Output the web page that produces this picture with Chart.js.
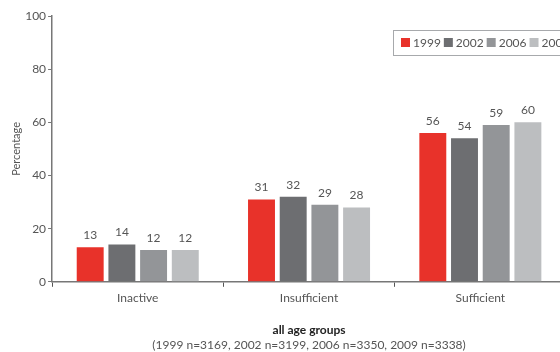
<!DOCTYPE html>
<html>
<head>
<meta charset="utf-8">
<script src="https://cdn.jsdelivr.net/npm/chart.js@4/dist/chart.umd.min.js"></script>
<style>
  html, body { margin: 0; padding: 0; background: #fff; overflow: hidden; }
  #wrap { position: relative; width: 580px; height: 352px; }
</style>
</head>
<body>
<div id="wrap"><canvas id="barChart" width="580" height="352"></canvas></div>
<script>
var categories = ['Inactive', 'Insufficient', 'Sufficient']
var years = ['1999', '2002', '2006', '2009']
var values1999 = [13, 31, 56]
var values2002 = [14, 32, 54]
var values2006 = [12, 29, 59]
var values2009 = [12, 28, 60]
var yTicks = [0, 20, 40, 60, 80, 100]
var colours = ['#e8322a', '#6d6e71', '#939598', '#bcbec0']

var fontFamily = 'Lato, "Open Sans", sans-serif'
var textColour = '#555'

// numbers printed above each bar
var valueLabels = {
  id: 'valueLabels',
  afterDatasetsDraw: function (chart) {
    var ctx = chart.ctx
    ctx.save()
    ctx.font = '12px ' + fontFamily
    ctx.fillStyle = textColour
    ctx.textAlign = 'center'
    ctx.textBaseline = 'bottom'
    chart.data.datasets.forEach(function (ds, i) {
      chart.getDatasetMeta(i).data.forEach(function (bar, j) {
        ctx.fillText(ds.data[j], bar.x, bar.y - 6)
      })
    })
    ctx.restore()
  }
}

// boxed legend in the top right corner
var boxLegend = {
  id: 'boxLegend',
  afterDraw: function (chart) {
    var ctx = chart.ctx
    var left = 393, top = 30, h = 25
    ctx.save()
    ctx.fillStyle = '#fff'
    ctx.fillRect(left, top, 300, h)
    ctx.strokeStyle = '#a7a9ac'
    ctx.lineWidth = 1
    ctx.strokeRect(left + 0.5, top + 0.5, 300, h)
    ctx.font = '12px ' + fontFamily
    ctx.textBaseline = 'middle'
    var x = left + 8
    chart.data.datasets.forEach(function (ds) {
      ctx.fillStyle = ds.backgroundColor
      ctx.fillRect(x, top + 8, 9, 9)
      ctx.fillStyle = textColour
      ctx.fillText(ds.label, x + 12, top + h / 2 + 1)
      x += 12 + ctx.measureText(ds.label).width + 3
    })
    ctx.restore()
  }
}

var seriesValues = [values1999, values2002, values2006, values2009]
var datasets = years.map(function (y, i) {
  return {
    label: y,
    data: seriesValues[i],
    backgroundColor: colours[i],
    barPercentage: 0.85,
    categoryPercentage: 0.74
  }
})

new Chart(document.getElementById('barChart').getContext('2d'), {
  type: 'bar',
  data: { labels: categories, datasets: datasets },
  options: {
    responsive: false,
    animation: false,
    layout: { padding: { top: 16, right: 14, left: 8, bottom: 0 } },
    plugins: {
      legend: { display: false },
      tooltip: { enabled: false },
      title: {
        display: true,
        position: 'bottom',
        fullSize: false,
        weight: 1000,
        text: 'all age groups',
        color: '#222',
        font: { family: fontFamily, size: 12, weight: 'bold' },
        padding: { top: 14, bottom: 0 }
      },
      subtitle: {
        display: true,
        position: 'bottom',
        fullSize: false,
        weight: 1500,
        text: '(1999 n=3169, 2002 n=3199, 2006 n=3350, 2009 n=3338)',
        color: textColour,
        font: { family: fontFamily, size: 12 },
        padding: { top: 0, bottom: 0 }
      }
    },
    scales: {
      x: {
        grid: { drawOnChartArea: false, drawTicks: true, tickLength: 5, color: '#555', lineWidth: 1 },
        border: { display: true, color: '#777', width: 1.5 },
        ticks: { color: textColour, font: { family: fontFamily, size: 12 }, padding: 4 }
      },
      y: {
        min: 0,
        max: 100,
        afterBuildTicks: function (axis) {
          axis.ticks = yTicks.map(function (v) { return { value: v } })
        },
        grid: { drawOnChartArea: false, drawTicks: true, tickLength: 4, color: '#777' },
        border: { display: true, color: '#777', width: 1.5 },
        ticks: { color: textColour, font: { family: fontFamily, size: 12 }, padding: 2 },
        title: {
          display: true,
          text: 'Percentage',
          color: textColour,
          font: { family: fontFamily, size: 11 },
          padding: { top: 2, bottom: 0 }
        }
      }
    }
  },
  plugins: [valueLabels, boxLegend]
})
</script>
</body>
</html>
